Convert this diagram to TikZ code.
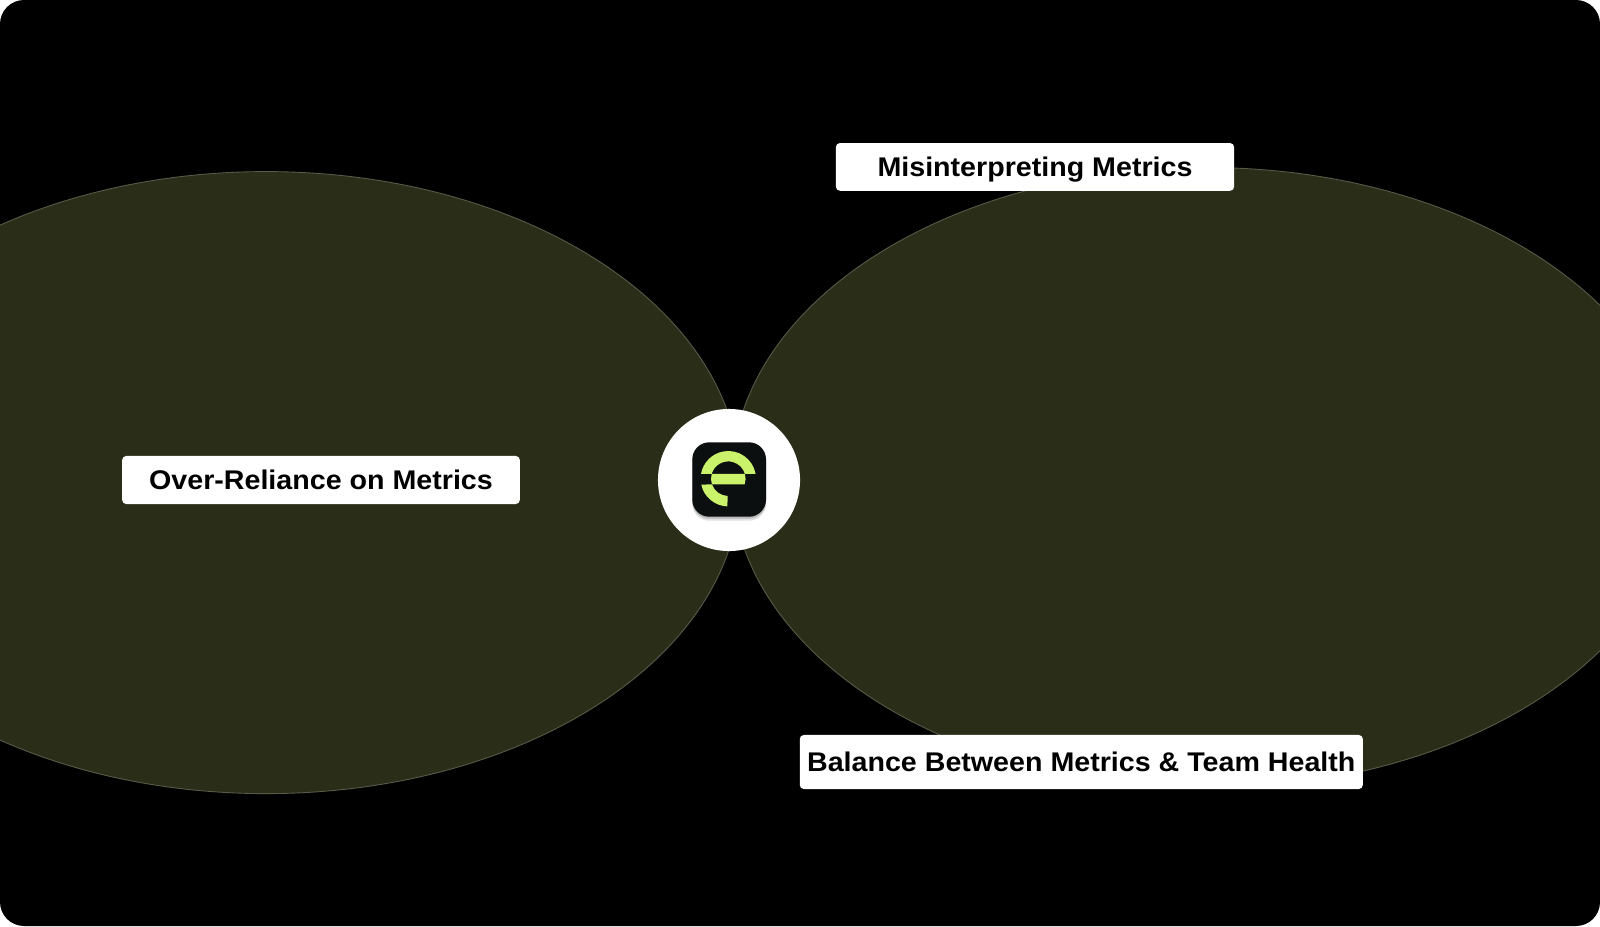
\documentclass[tikz,border=0pt]{standalone}
\usepackage{fontspec}
\setmainfont[FakeStretch=1.06]{Liberation Sans}
\definecolor{lobefill}{RGB}{42,46,24}
\definecolor{lobeedge}{RGB}{88,91,72}
\definecolor{logodark}{RGB}{11,15,16}
\definecolor{logogreen}{RGB}{203,242,107}
\tikzset{
  lobe/.style={fill=lobefill,draw=lobeedge,line width=0.25pt},
  tag/.style={fill=white,rounded corners=0.04cm,inner sep=0pt,text=black,
    font=\fontsize{7.68}{9}\selectfont\bfseries,text height=5.5pt,text depth=0pt},
}
\begin{document}
\begin{tikzpicture}[x=0.01cm,y=0.01cm]
      \useasboundingbox (0,0) rectangle (1600,926);
      % Background
      \fill[white] (0,0) rectangle (1600,926);
      \fill[black,rounded corners=0.24cm] (0,0) rectangle (1600,926);
      % Lobes
      \begin{scope}
        \clip (0,0) rectangle (1600,926);
        \path[lobe] (266,443.4) ellipse (474 and 311);
        \path[lobe] (1206,448) ellipse (474 and 310.5);
      \end{scope}
      % Labels
      \node[tag,minimum width=3.98cm,minimum height=0.477cm] (misread) at (1035,759.1) {Misinterpreting Metrics};
      \node[tag,minimum width=3.974cm,minimum height=0.48cm] (reliance) at (321,446) {Over-Reliance on Metrics};
      \node[tag,minimum width=5.627cm,minimum height=0.54cm] (balance) at (1081.3,164) {Balance Between Metrics \& Team Health};
      % Hub
      \node[circle,fill=white,minimum size=1.42cm,inner sep=0pt] (hub) at (729,446) {};
      % -- badge
      \fill[black!12,rounded corners=0.17cm] (692.3,405.3) rectangle (766,480.7);
      \fill[black!28,rounded corners=0.17cm] (692.3,407.3) rectangle (766,480.7);
      \fill[logodark,rounded corners=0.17cm] (692.3,409.3) rectangle (766,483.7);
      % -- letter, around (728.3,447.3)
      \begin{scope}[shift={(728.3,447.3)},logogreen]
        \fill (9.8:27.7) arc (9.8:170.2:27.7) -- (164.2:17.3) arc (164.2:15.8:17.3) -- cycle;
        \fill (15.8:17.3) arc (15.8:-19.5:17.3) -- (199.5:17.3) arc (199.5:164.2:17.3) -- cycle;
        \fill (268:27.7) arc (268:192.1:27.7) -- (199.5:17.3) arc (199.5:268:17.3) -- cycle;
      \end{scope}
    \end{tikzpicture}
\end{document}
